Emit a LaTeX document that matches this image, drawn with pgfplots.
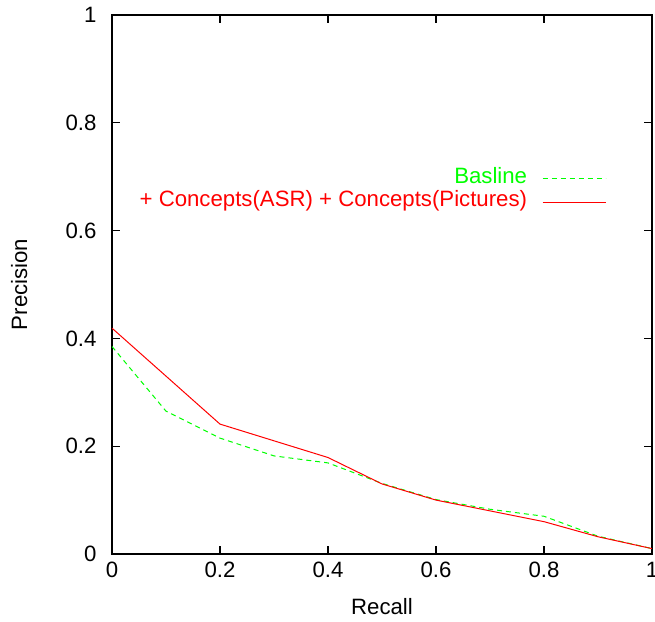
\documentclass[border=0pt]{standalone}
\usepackage{fontspec}
\setmainfont{Liberation Sans}
\usepackage{pgfplots}
\pgfplotsset{compat=1.18}
\definecolor{gpgreen}{RGB}{0,255,0}
\definecolor{gpred}{RGB}{255,0,0}
\begin{document}
\fontsize{11.1}{13}\selectfont
\begin{tikzpicture}
\begin{axis}[
  name=ax,
  scale only axis,
  width=270pt, height=269.5pt,
  xmin=0, xmax=1, ymin=0, ymax=1,
  xtick={0,0.2,0.4,0.6,0.8,1},
  ytick={0,0.2,0.4,0.6,0.8,1},
  tick align=inside,
  major tick length=4pt,
  axis line style={line width=0.7pt},
  every tick/.style={black, line width=0.6pt},
  /pgf/number format/assume math mode=true,
  yticklabel style={xshift=-3.9pt},
  xlabel={Recall}, ylabel={Precision},
  xlabel style={at={(axis description cs:0.5,-0.098)}, anchor=center},
  ylabel style={at={(axis description cs:-0.172,0.5)}, anchor=center},
  legend plot pos=right,
  legend cell align=right,
  legend style={draw=none, fill=none, at={(axis description cs:0.915,0.718)}, anchor=north east,
    inner sep=0pt, outer sep=0pt, row sep=0pt,
    nodes={inner sep=0pt, text height=8.2pt, text depth=3.5pt},
    /tikz/every odd column/.append style={column sep=7.5pt}},
  legend image code/.code={\draw[#1] (0pt,0pt) -- (31.5pt,0pt);},
]
\addplot[gpgreen, line width=0.5pt, dash pattern=on 2.5pt off 2pt] coordinates {
(0,0.385) (0.1,0.265) (0.2,0.215) (0.3,0.182) (0.4,0.169) (0.5,0.131) (0.6,0.101) (0.7,0.083) (0.8,0.070) (0.9,0.033) (1,0.010)};
\addlegendentry{\textcolor{gpgreen}{Basline}}
\addplot[gpred, line width=0.5pt] coordinates {
(0,0.419) (0.1,0.33) (0.2,0.241) (0.3,0.21) (0.4,0.179) (0.5,0.130) (0.6,0.100) (0.7,0.080) (0.8,0.060) (0.9,0.032) (1,0.010)};
\addlegendentry{\textcolor{gpred}{+ Concepts(ASR) + Concepts(Pictures)}}
\end{axis}
\pgfresetboundingbox
\useasboundingbox ([xshift=-56pt,yshift=-34pt]ax.south west) rectangle ([xshift=1.5pt,yshift=7.5pt]ax.north east);
\end{tikzpicture}
\end{document}
